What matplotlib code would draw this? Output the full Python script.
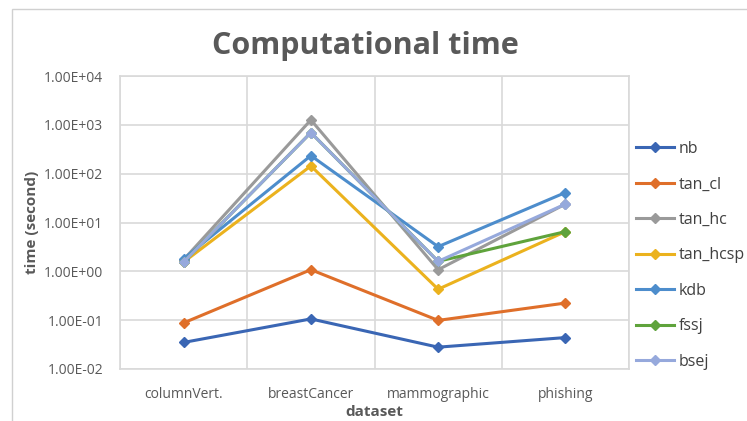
import matplotlib
import matplotlib.pyplot as plt
import numpy as np
from matplotlib.patches import Rectangle

matplotlib.use("Agg")
plt.rcParams['font.family'] = ['Open Sans', 'DejaVu Sans']

# 数据
datasets = ["columnVert.", "breastCancer", "mammographic", "phishing"]
nb = [0.035, 0.106, 0.028, 0.044]
tan_cl = [0.088, 1.08, 0.099, 0.224]
tan_hc = [1.73, 1260, 1.08, 23.8]
tan_hcsp = [1.55, 144, 0.43, 6.5]
kdb = [1.81, 234, 3.2, 41]
fssj = [1.55, 693, 1.6, 6.5]
bsej = [1.55, 693, 1.6, 23.8]
yticks = [1e-2, 1e-1, 1e0, 1e1, 1e2, 1e3, 1e4]

series = [
    ("nb", nb, "#3A66B4"),
    ("tan_cl", tan_cl, "#DF6F2A"),
    ("tan_hc", tan_hc, "#9A9A9A"),
    ("tan_hcsp", tan_hcsp, "#EBB21E"),
    ("kdb", kdb, "#4D8DCC"),
    ("fssj", fssj, "#5FA33C"),
    ("bsej", bsej, "#96A9DC"),
]

fig = plt.figure(figsize=(7.47, 4.21), dpi=100)
ax = fig.add_axes([120 / 747, 1 - 369 / 421, 509 / 747, 293 / 421])

# 外框
fig.patches.append(Rectangle((12 / 747, -0.1), 1.2, 1.1 - 9 / 421, transform=fig.transFigure,
                             fill=False, edgecolor="#D0D0D0", linewidth=1.0))

x = np.arange(len(datasets))
for name, vals, col in series:
    ax.plot(x, vals, color=col, linewidth=2.2, marker="D", markersize=5.5,
            label=name, zorder=3)

ax.set_yscale("log")
ax.set_ylim(1e-2, 1e4)
ax.set_xlim(-0.5, len(datasets) - 0.5)
ax.set_yticks(yticks)
ax.set_yticklabels([f"{v:.2E}" for v in yticks])
ax.yaxis.set_minor_locator(matplotlib.ticker.NullLocator())
ax.set_xticks(x)
ax.set_xticklabels(datasets)
ax.set_xticks(np.arange(-0.5, len(datasets)), minor=True)

ax.grid(True, which="major", axis="y", color="#D9D9D9", linewidth=1.2)
ax.grid(True, which="minor", axis="x", color="#D9D9D9", linewidth=1.2)
ax.tick_params(which="both", length=0, colors="#595959", labelsize=10)
ax.tick_params(axis="y", pad=12)
ax.tick_params(axis="x", pad=13)
for sp in ax.spines.values():
    sp.set_color("#D9D9D9")
    sp.set_linewidth(1.2)

ax.set_xlabel("dataset", fontsize=11, fontweight="bold", color="#595959", labelpad=2)
ax.set_ylabel("time (second)", fontsize=11, fontweight="bold", color="#595959", labelpad=4)
fig.text(365 / 747, 1 - 46 / 421, "Computational time", ha="center", va="center",
         fontsize=22, fontweight="bold", color="#595959")

fig.legend(loc="upper left", bbox_to_anchor=(636 / 747, 1 - 141 / 421), frameon=False,
           fontsize=11.5, labelcolor="#404040", handlelength=2.4, handletextpad=0.3,
           labelspacing=1.22, borderaxespad=0, borderpad=0)

fig.savefig("out.png", dpi=100)
